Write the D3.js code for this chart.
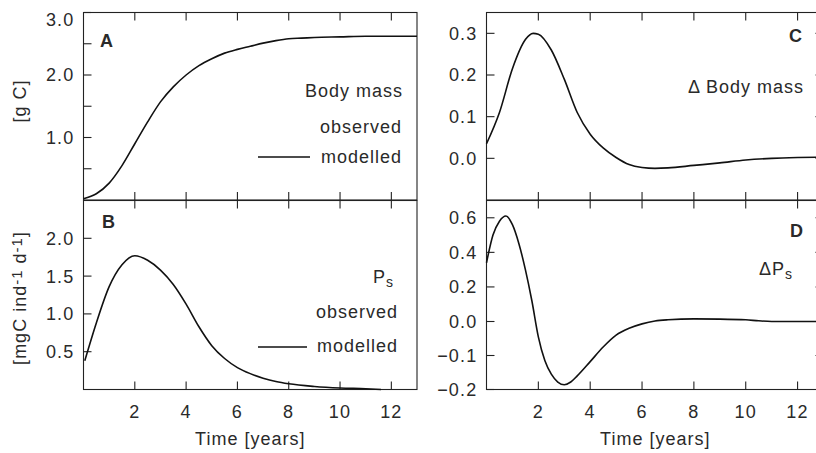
<!DOCTYPE html>
<html>
<head>
<meta charset="utf-8">
<script src="https://cdn.jsdelivr.net/npm/d3@7"></script>
<style>
  body { margin: 0; background: #fff; }
  text { font-family: "Liberation Sans", Arial, sans-serif; fill: #2a2a2a; }
</style>
</head>
<body>
<svg id="chart" width="816" height="453"></svg>
<script>
// panel A: body mass [g C]
var timeA = [0, 0.5, 1, 1.5, 2, 2.5, 3, 3.5, 4, 4.5, 5, 5.5, 6, 6.5, 7, 7.5, 8, 8.5, 9, 10, 11, 12, 13];
var massA = [0.02, 0.10, 0.27, 0.55, 0.90, 1.25, 1.57, 1.81, 2.00, 2.15, 2.26, 2.35, 2.41, 2.46, 2.51, 2.55, 2.58, 2.59, 2.60, 2.61, 2.62, 2.62, 2.62];

// panel B: Ps [mgC ind-1 d-1]
var timeB = [0.05, 0.5, 1, 1.5, 2, 2.5, 3, 3.5, 4, 4.5, 5, 5.5, 6, 6.5, 7, 7.5, 8, 9, 10, 11, 11.6];
var psB = [0.38, 0.88, 1.36, 1.65, 1.77, 1.71, 1.58, 1.39, 1.13, 0.83, 0.58, 0.41, 0.29, 0.21, 0.15, 0.105, 0.075, 0.04, 0.02, 0.01, 0.0];

// panel C: delta body mass
var timeC = [0, 0.5, 1, 1.5, 1.8, 2, 2.5, 3, 3.5, 4, 4.5, 5, 5.5, 6, 6.5, 7, 8, 9, 10, 11, 12, 13];
var dMassC = [0.035, 0.11, 0.215, 0.285, 0.30, 0.298, 0.26, 0.19, 0.11, 0.058, 0.025, 0.002, -0.015, -0.022, -0.024, -0.023, -0.017, -0.011, -0.004, 0.0, 0.002, 0.003];

// panel D: delta Ps
var timeD = [0, 0.25, 0.5, 0.75, 1, 1.25, 1.5, 1.75, 2, 2.25, 2.5, 2.75, 3, 3.25, 3.5, 4, 4.5, 5, 5.5, 6, 6.5, 7, 8, 9, 10, 10.5, 11, 12, 13];
var dPsD = [0.34, 0.50, 0.58, 0.61, 0.56, 0.45, 0.30, 0.12, -0.045, -0.115, -0.155, -0.178, -0.186, -0.178, -0.16, -0.118, -0.075, -0.04, -0.02, -0.007, 0.003, 0.01, 0.015, 0.014, 0.01, 0.004, 0.0, 0.0, 0.0];

var xTicks = [2, 4, 6, 8, 10, 12];
var yTicksA = [0.5, 1, 1.5, 2, 2.5, 3];
var yLabelsA = [1, 2, 3];
var yTicksB = [0.5, 1, 1.5, 2];
var yTicksC = [0, 0.1, 0.2, 0.3];
var yTicksD = [-0.2, -0.1, 0, 0.2, 0.4, 0.6];

var svg = d3.select("#chart");
var ink = "#222";
var tickLen = 8;
var fmt = d3.format(".1f");

var xL = d3.scaleLinear().domain([0, 13]).range([83.5, 417]);
var xR = d3.scaleLinear().domain([0, 13]).range([486.5, 823.5]);
var yA = d3.scaleLinear().domain([0, 3]).range([200, 12.5]);
var yB = d3.scaleLinear().domain([0, 2.5]).range([389.5, 200.5]);
var yC = d3.scaleLinear().domain([-0.1, 0.35]).range([200, 12.5]);
var yD = d3.scaleLinear().domain([-0.2, 0, 0.7]).range([389.5, 321.5, 200.5]);

function panel(x, y, yTicks, yLabels, rightTicks, xLabels) {
  var g = svg.append("g");
  var x0 = x.range()[0], x1 = x.range()[1];
  var yb = y(y.domain()[0]), yt = y(y.domain()[y.domain().length - 1]);

  g.append("rect")
    .attr("x", x0).attr("y", yt)
    .attr("width", x1 - x0).attr("height", yb - yt)
    .attr("fill", "none").attr("stroke", ink).attr("stroke-width", 1.1);

  // x ticks, inward on top and bottom
  xTicks.forEach(function (t) {
    g.append("line").attr("x1", x(t)).attr("x2", x(t))
      .attr("y1", yb).attr("y2", yb - tickLen)
      .attr("stroke", ink).attr("stroke-width", 1.1);
    g.append("line").attr("x1", x(t)).attr("x2", x(t))
      .attr("y1", yt).attr("y2", yt + tickLen)
      .attr("stroke", ink).attr("stroke-width", 1.1);
  });

  // y ticks, inward
  yTicks.forEach(function (v) {
    g.append("line").attr("x1", x0).attr("x2", x0 + tickLen)
      .attr("y1", y(v)).attr("y2", y(v))
      .attr("stroke", ink).attr("stroke-width", 1.1);
    if (rightTicks) {
      g.append("line").attr("x1", x1).attr("x2", x1 - tickLen)
        .attr("y1", y(v)).attr("y2", y(v))
        .attr("stroke", ink).attr("stroke-width", 1.1);
    }
  });

  yLabels.forEach(function (v) {
    g.append("text")
      .attr("x", x0 - 9)
      .attr("y", Math.max(y(v), 20))
      .attr("dy", "0.36em")
      .attr("text-anchor", "end")
      .attr("font-size", "18px")
      .attr("letter-spacing", "1.2px")
      .text(fmt(v));
  });

  if (xLabels) {
    xTicks.forEach(function (t) {
      g.append("text")
        .attr("x", x(t))
        .attr("y", 418)
        .attr("text-anchor", "middle")
        .attr("font-size", "18px")
        .attr("letter-spacing", "1.2px")
        .text(t);
    });
    g.append("text")
      .attr("x", (x0 + Math.min(x1, 816)) / 2 + (x1 > 816 ? 4 : 0))
      .attr("y", 445)
      .attr("text-anchor", "middle")
      .attr("font-size", "18px")
      .attr("letter-spacing", "1px")
      .text("Time [years]");
  }
  return g;
}

function curve(g, x, y, ts, vs) {
  var pts = ts.map(function (t, i) { return [t, vs[i]]; });
  g.append("path")
    .datum(pts)
    .attr("fill", "none")
    .attr("stroke", "#111")
    .attr("stroke-width", 1.6)
    .attr("d", d3.line()
      .x(function (d) { return x(d[0]); })
      .y(function (d) { return y(d[1]); })
      .curve(d3.curveMonotoneX));
}

function label(g, x, y, txt, opts) {
  var t = g.append("text")
    .attr("x", x).attr("y", y)
    .attr("text-anchor", opts && opts.anchor || "end")
    .attr("font-size", opts && opts.size || "18px")
    .attr("letter-spacing", "1px");
  if (opts && opts.bold) t.attr("font-weight", "bold").attr("letter-spacing", "0px");
  if (opts && opts.sub) {
    t.append("tspan").text(txt);
    t.append("tspan").attr("font-size", "14px").attr("dy", "4").text(opts.sub);
  } else {
    t.text(txt);
  }
  return t;
}

// Panel A
var gA = panel(xL, yA, yTicksA, yLabelsA, false, false);
curve(gA, xL, yA, timeA, massA);
label(gA, 100, 47, "A", {anchor: "start", bold: true});
label(gA, 403, 97, "Body mass");
label(gA, 402, 133, "observed");
label(gA, 402, 163, "modelled");
gA.append("line").attr("x1", 258).attr("x2", 310).attr("y1", 157).attr("y2", 157)
  .attr("stroke", "#111").attr("stroke-width", 1.4);

// Panel B
var gB = panel(xL, yB, yTicksB, yTicksB, false, true);
curve(gB, xL, yB, timeB, psB);
label(gB, 102, 228, "B", {anchor: "start", bold: true});
label(gB, 394, 283, "P", {sub: "s"});
label(gB, 398, 318, "observed");
label(gB, 398, 352, "modelled");
gB.append("line").attr("x1", 258).attr("x2", 307).attr("y1", 347).attr("y2", 347)
  .attr("stroke", "#111").attr("stroke-width", 1.4);

// Panel C
var gC = panel(xR, yC, yTicksC, yTicksC, true, false);
curve(gC, xR, yC, timeC, dMassC);
label(gC, 802, 42, "C", {bold: true});
label(gC, 804, 93, "\u0394 Body mass");

// Panel D
var gD = panel(xR, yD, yTicksD, yTicksD, true, true);
curve(gD, xR, yD, timeD, dPsD);
label(gD, 803, 237, "D", {bold: true});
label(gD, 793, 275, "\u0394P", {sub: "s"});

// y axis titles
svg.append("text")
  .attr("transform", "translate(26,101) rotate(-90)")
  .attr("text-anchor", "middle")
  .attr("font-size", "18px")
  .attr("letter-spacing", "1px")
  .text("[g C]");

var yt = svg.append("text")
  .attr("transform", "translate(26,298) rotate(-90)")
  .attr("text-anchor", "middle")
  .attr("font-size", "18px")
  .attr("letter-spacing", "1px");
yt.append("tspan").text("[mgC ind");
yt.append("tspan").attr("dy", -4).attr("font-size", "15px").text("-1");
yt.append("tspan").attr("dy", 4).text(" d");
yt.append("tspan").attr("dy", -4).attr("font-size", "15px").text("-1");
yt.append("tspan").attr("dy", 4).text("]");
</script>
</body>
</html>
